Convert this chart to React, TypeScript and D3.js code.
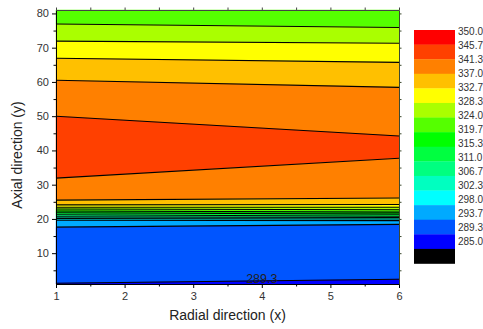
import { axisBottom, axisLeft, axisRight, axisTop, area as d3Area, line as d3Line, scaleLinear, scaleThreshold, select } from "d3";
import { useEffect, useRef } from "react";

// legend levels, top to bottom
const legendLevels = [350.0, 345.7, 341.3, 337.0, 332.7, 328.3, 324.0, 319.7, 315.3, 311.0, 306.7, 302.3, 298.0, 293.7, 289.3, 285.0];
const legendColors = [
  "#ff0000", "#ff4000", "#ff8000", "#ffc000", "#ffff00", "#aaff00", "#55ff00", "#00ff00",
  "#00ff40", "#00ff80", "#00ffc0", "#00ffff", "#00aaff", "#0055ff", "#0000ff", "#000000",
];

// contour lines, top to bottom: level and axial position at x = 1 and x = 6
const xSamples = [1, 6];
const contourLevels = [324.0, 328.3, 332.7, 337.0, 341.3, 341.3, 337.0, 332.7, 328.3, 324.0, 319.7, 315.3, 311.0, 306.7, 302.3, 298.0, 293.7, 289.3];
const contourYAtX1 = [76.9, 71.9, 66.9, 60.5, 50.0, 31.9, 25.5, 24.1, 23.4, 22.9, 22.3, 21.8, 21.2, 20.6, 20.1, 19.6, 17.6, 1.2];
const contourYAtX6 = [75.9, 71.3, 65.7, 58.4, 44.2, 37.7, 26.1, 24.2, 23.4, 22.7, 22.0, 21.4, 20.8, 20.4, 20.0, 19.5, 18.4, 2.4];
// representative temperature of each band between lines (top edge .. bottom edge)
const bandValues = [322, 326, 330.5, 335, 339, 343.5, 339, 335, 330.5, 326, 322, 317.5, 313, 309, 304.5, 300, 296, 291.5, 287];

const xTicks = [1, 2, 3, 4, 5, 6];
const xMinorTicks = [1.5, 2.5, 3.5, 4.5, 5.5];
const yTicks = [10, 20, 30, 40, 50, 60, 70, 80];
const yMinorTicks = [5, 15, 25, 35, 45, 55, 65, 75];
const contourLabel = { text: "289.3", x: 4, y: 1.4 };

const W = 483;
const H = 329;
const plot = { left: 56, right: 399, top: 10, bottom: 284 };
const FONT = "'Liberation Sans', Arial, sans-serif";

export default function App() {
  const svgRef = useRef<SVGSVGElement | null>(null);

  useEffect(() => {
    if (!svgRef.current) return;
    const svg = select(svgRef.current);
    svg.selectAll("*").remove();

    const x = scaleLinear().domain([1, 6]).range([plot.left, plot.right]);
    const y = scaleLinear().domain([1, 81]).range([plot.bottom, plot.top]);
    const [yMin, yMax] = y.domain();

    const color = scaleThreshold<number, string>()
      .domain([...legendLevels].reverse())
      .range(["#000000", ...[...legendColors].reverse().slice(1), "#ff0000"]);

    const lines = contourLevels.map((level, i) => ({
      level,
      pts: xSamples.map((xv, j) => ({ x: xv, y: j === 0 ? contourYAtX1[i] : contourYAtX6[i] })),
    }));
    const topEdge = xSamples.map((xv) => ({ x: xv, y: yMax }));
    const bottomEdge = xSamples.map((xv) => ({ x: xv, y: yMin }));
    const bounds = [topEdge, ...lines.map((l) => l.pts), bottomEdge];

    const g = svg.append("g");
    bandValues.forEach((v, i) => {
      const upper = bounds[i];
      const lower = bounds[i + 1];
      const pts = upper.map((p, j) => ({ x: p.x, y1: p.y, y0: lower[j].y }));
      const areaGen = d3Area<(typeof pts)[number]>()
        .x((d) => x(d.x))
        .y0((d) => y(d.y0))
        .y1((d) => y(d.y1));
      g.append("path").datum(pts).attr("d", areaGen).attr("fill", color(v)).attr("stroke", color(v)).attr("stroke-width", 0.5);
    });

    const lineGen = d3Line<{ x: number; y: number }>()
      .x((d) => x(d.x))
      .y((d) => y(d.y));
    lines.forEach((l) => {
      g.append("path").datum(l.pts).attr("d", lineGen).attr("fill", "none").attr("stroke", "#000").attr("stroke-width", 1.1);
    });

    g.append("text")
      .attr("x", x(contourLabel.x))
      .attr("y", y(contourLabel.y))
      .attr("text-anchor", "middle")
      .attr("font-family", FONT)
      .attr("font-size", 12.5)
      .attr("fill", "#222")
      .text(contourLabel.text);

    const styleAxis = (sel: any, stroke: string) => {
      sel.select(".domain").attr("stroke", stroke);
      sel.selectAll(".tick line").attr("stroke", stroke);
      sel.selectAll("text").attr("font-family", FONT).attr("font-size", 11).attr("fill", "#333");
    };

    // bottom
    const bx = svg.append("g").attr("transform", `translate(0,${plot.bottom})`)
      .call(axisBottom(x).tickValues(xTicks).tickSize(4).tickSizeOuter(0).tickPadding(4).tickFormat((d) => String(d)));
    styleAxis(bx, "#000");
    const bxm = svg.append("g").attr("transform", `translate(0,${plot.bottom})`)
      .call(axisBottom(x).tickValues(xMinorTicks).tickSize(2.5).tickSizeOuter(0).tickFormat(() => ""));
    styleAxis(bxm, "#000");
    bxm.select(".domain").remove();

    // left
    const ly = svg.append("g").attr("transform", `translate(${plot.left},0)`)
      .call(axisLeft(y).tickValues(yTicks).tickSize(4).tickSizeOuter(0).tickPadding(3).tickFormat((d) => String(d)));
    styleAxis(ly, "#000");
    const lym = svg.append("g").attr("transform", `translate(${plot.left},0)`)
      .call(axisLeft(y).tickValues(yMinorTicks).tickSize(2.5).tickSizeOuter(0).tickFormat(() => ""));
    styleAxis(lym, "#000");
    lym.select(".domain").remove();

    // top & right (mirror, no labels)
    const tx = svg.append("g").attr("transform", `translate(0,${plot.top})`)
      .call(axisTop(x).tickValues([...xTicks, ...xMinorTicks]).tickSize(2.5).tickSizeOuter(0).tickFormat(() => ""));
    styleAxis(tx, "#444");
    const ry = svg.append("g").attr("transform", `translate(${plot.right},0)`)
      .call(axisRight(y).tickValues([...yTicks, ...yMinorTicks]).tickSize(2.5).tickSizeOuter(0).tickFormat(() => ""));
    styleAxis(ry, "#3d4a30");

    // axis titles
    svg.append("text")
      .attr("x", (plot.left + plot.right) / 2)
      .attr("y", 320)
      .attr("text-anchor", "middle")
      .attr("font-family", FONT)
      .attr("font-size", 14)
      .attr("fill", "#222")
      .text("Radial direction (x)");
    svg.append("text")
      .attr("transform", `translate(22,${(plot.top + plot.bottom) / 2 + 8}) rotate(-90)`)
      .attr("text-anchor", "middle")
      .attr("font-family", FONT)
      .attr("font-size", 14)
      .attr("fill", "#222")
      .text("Axial direction (y)");

    // legend
    const boxY = scaleLinear().domain([0, legendLevels.length]).range([30, 263.5]);
    const labelY = scaleLinear().domain([0, legendLevels.length - 1]).range([31.7, 241]);
    const lg = svg.append("g");
    legendColors.forEach((c, i) => {
      lg.append("rect")
        .attr("x", 414)
        .attr("y", boxY(i))
        .attr("width", 41)
        .attr("height", boxY(i + 1) - boxY(i) + 0.3)
        .attr("fill", c);
    });
    legendLevels.forEach((lv, i) => {
      lg.append("text")
        .attr("x", 458)
        .attr("y", labelY(i))
        .attr("dy", "0.35em")
        .attr("font-family", FONT)
        .attr("font-size", 10)
        .attr("fill", "#333")
        .text(lv.toFixed(1));
    });
  }, []);

  return (
    <svg
      ref={svgRef}
      width={W}
      height={H}
      style={{ position: "absolute", left: 0, top: 0, display: "block", background: "#fff" }}
    />
  );
}
